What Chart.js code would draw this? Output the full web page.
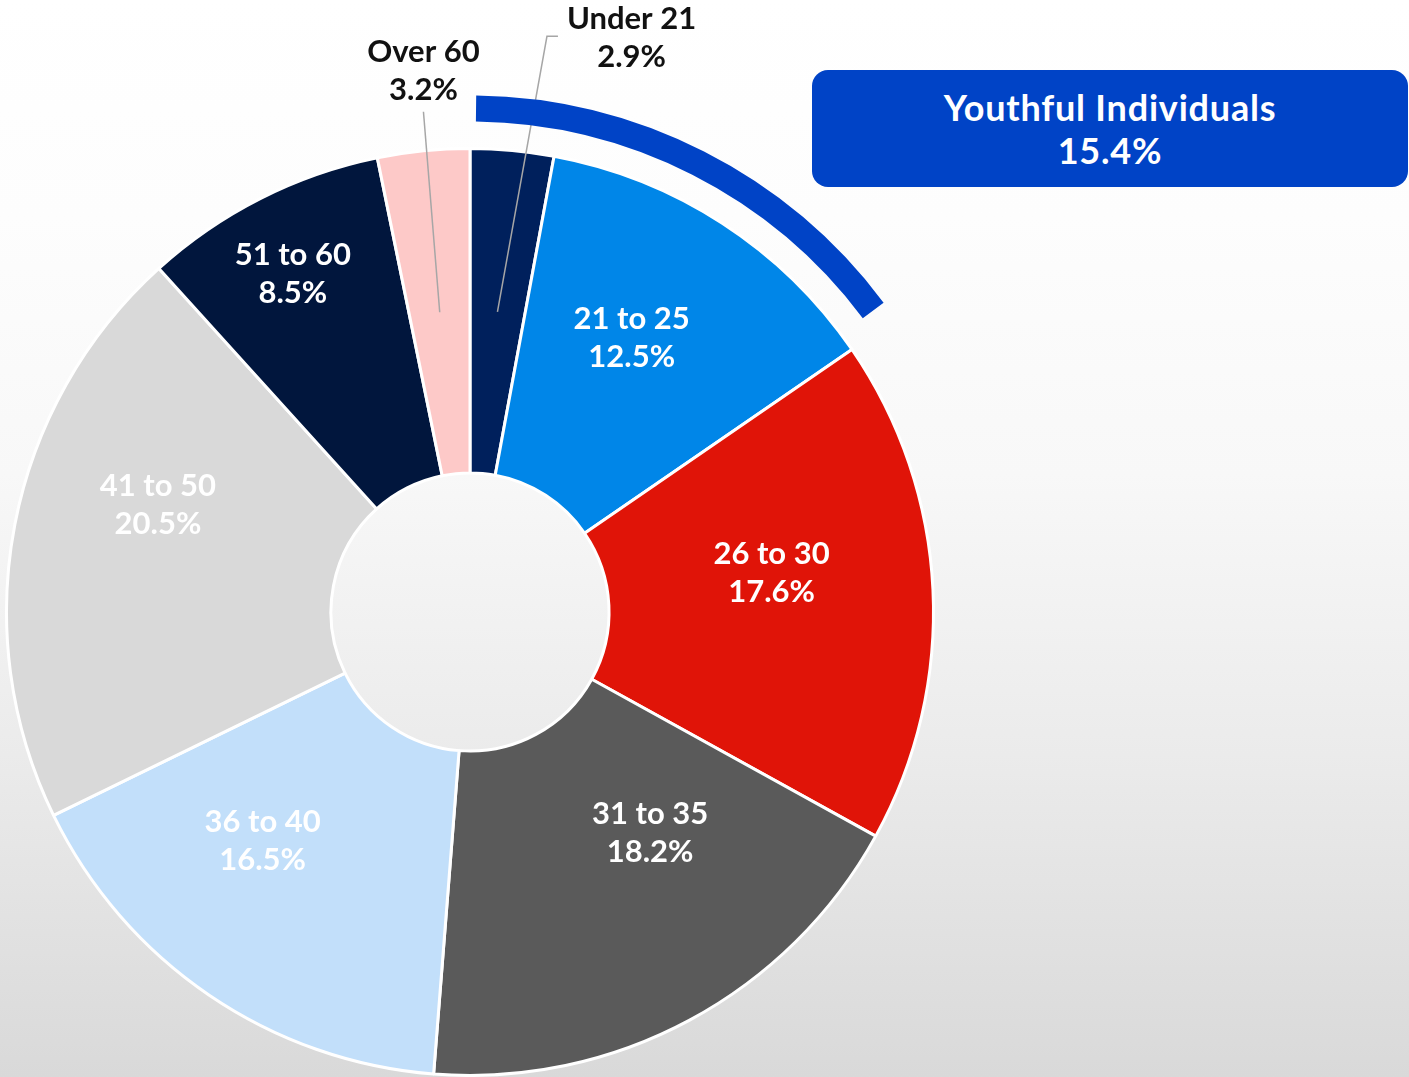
<!DOCTYPE html>
<html>
<head>
<meta charset="utf-8">
<script src="https://cdn.jsdelivr.net/npm/chart.js@4.4.1/dist/chart.umd.min.js"></script>
<style>
  html, body { margin: 0; padding: 0; }
  body {
    width: 1409px;
    height: 1077px;
    overflow: hidden;
    position: relative;
    background: linear-gradient(to bottom, #ffffff 0%, #fdfdfd 20%, #f8f8f8 44%, #ebebeb 70%, #d9d9d9 100%);
    font-family: Lato, "Open Sans", sans-serif;
  }
  #chart { position: absolute; left: 0; top: 0; }
  #youth-box {
    position: absolute;
    left: 812px;
    top: 70px;
    width: 596px;
    height: 117px;
    border-radius: 16px;
    background: #0043c6;
    color: #fff;
    font-size: 36px;
    font-weight: bold;
    letter-spacing: 0.8px;
    line-height: 43px;
    text-align: center;
    display: flex;
    flex-direction: column;
    justify-content: center;
  }
</style>
</head>
<body>
<canvas id="chart" width="1409" height="1077"></canvas>
<div id="youth-box"><div>Youthful Individuals</div><div id="youth-share"></div></div>
<script>
// age groups, clockwise from the top
const ageGroups = ['Under 21', '21 to 25', '26 to 30', '31 to 35', '36 to 40', '41 to 50', '51 to 60', 'Over 60'];
const shares = [2.9, 12.5, 17.6, 18.2, 16.5, 20.5, 8.5, 3.2];
const youthfulGroups = ['Under 21', '21 to 25'];
const sliceColors = ['#00205c', '#0086e8', '#e01408', '#5a5a5a', '#c2dffa', '#d9d9d9', '#01163d', '#fdc9c8'];

// label placement: turn = degrees off the slice middle, r = fraction of outer radius
const labelPlacement = [
  { turn: 10.5, r: 1.286, outside: true, leader: 'left' },
  { turn: -2.4, r: 0.686 },
  { turn: -4.6, r: 0.656 },
  { turn: -10.9, r: 0.615 },
  { turn: 7.9, r: 0.667 },
  { turn: 8.1, r: 0.712 },
  { turn: -0.8, r: 0.824 },
  { turn: 0.85, r: 1.172, outside: true, leader: 'below' }
];

const youthIdx = youthfulGroups.map(g => ageGroups.indexOf(g));
const youthShare = youthIdx.reduce((s, i) => s + shares[i], 0);
document.getElementById('youth-share').textContent = youthShare.toFixed(1) + '%';

const labelFont = 'bold 31px Lato, "Open Sans", sans-serif';
const lineGap = 38;

const sliceLabels = {
  id: 'sliceLabels',
  afterDatasetsDraw(chart) {
    const ctx = chart.ctx;
    const arcs = chart.getDatasetMeta(0).data;
    ctx.save();

    // leader lines for the thin slices
    arcs.forEach((arc, i) => {
      const p = labelPlacement[i];
      if (!p.outside) return;
      const mid = (arc.startAngle + arc.endAngle) / 2;
      const rr = (arc.innerRadius + arc.outerRadius) / 2;
      const ax = arc.x + Math.cos(mid) * rr;
      const ay = arc.y + Math.sin(mid) * rr;
      const a = mid + p.turn * Math.PI / 180;
      const lx = arc.x + Math.cos(a) * p.r * arc.outerRadius;
      const ly = arc.y + Math.sin(a) * p.r * arc.outerRadius;
      ctx.font = labelFont;
      const w = Math.max(ctx.measureText(ageGroups[i]).width, ctx.measureText(shares[i].toFixed(1) + '%').width);
      ctx.strokeStyle = '#a6a6a6';
      ctx.lineWidth = 1.5;
      ctx.beginPath();
      ctx.moveTo(ax, ay);
      if (p.leader === 'left') {
        const left = lx - w / 2;
        ctx.lineTo(left - 20, ly - 2);
        ctx.lineTo(left - 9, ly - 2);
      } else {
        ctx.lineTo(lx, ly + 41);
      }
      ctx.stroke();
    });

    // youthful bracket arc
    const a0 = arcs[youthIdx[0]];
    const a1 = arcs[youthIdx[youthIdx.length - 1]];
    ctx.strokeStyle = '#0043c6';
    ctx.lineWidth = 26;
    ctx.lineCap = 'butt';
    ctx.beginPath();
    ctx.arc(a0.x, a0.y, a0.outerRadius + 40, a0.startAngle + 0.012, a1.endAngle - 0.04);
    ctx.stroke();

    // text
    ctx.font = labelFont;
    ctx.textAlign = 'center';
    ctx.textBaseline = 'middle';
    arcs.forEach((arc, i) => {
      const p = labelPlacement[i];
      const a = (arc.startAngle + arc.endAngle) / 2 + p.turn * Math.PI / 180;
      const x = arc.x + Math.cos(a) * p.r * arc.outerRadius;
      const y = arc.y + Math.sin(a) * p.r * arc.outerRadius;
      ctx.fillStyle = p.outside ? '#111111' : '#ffffff';
      ctx.fillText(ageGroups[i], x, y - lineGap / 2);
      ctx.fillText(shares[i].toFixed(1) + '%', x, y + lineGap / 2);
    });
    ctx.restore();
  }
};

new Chart(document.getElementById('chart'), {
  type: 'doughnut',
  data: {
    labels: ageGroups,
    datasets: [{
      data: shares,
      backgroundColor: sliceColors,
      borderColor: '#ffffff',
      borderWidth: 3,
      hoverBorderWidth: 3
    }]
  },
  options: {
    responsive: false,
    animation: false,
    cutout: '30%',
    layout: { padding: { left: 5, right: 474, top: 147, bottom: 0 } },
    plugins: {
      legend: { display: false },
      tooltip: { enabled: false }
    }
  },
  plugins: [sliceLabels]
});
</script>
</body>
</html>
